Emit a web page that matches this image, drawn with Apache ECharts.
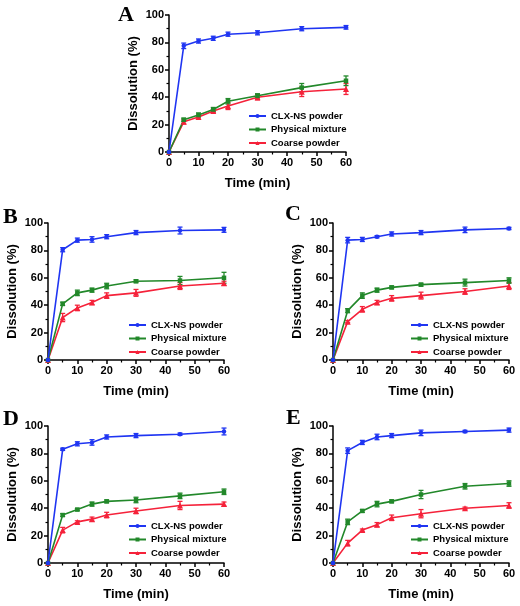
<!DOCTYPE html>
<html><head><meta charset="utf-8">
<script src="https://cdn.jsdelivr.net/npm/echarts@6/dist/echarts.min.js"></script>
<style>html,body{margin:0;padding:0;background:#fff}#c{width:520px;height:606px}</style>
</head><body><div id="c"></div>
<script>
const time = [0, 5, 10, 15, 20, 30, 45, 60];
const seriesNames = ['CLX-NS powder', 'Physical mixture', 'Coarse powder'];
const panelLabels = ['A', 'B', 'C', 'D', 'E'];
const xTicks = [0, 10, 20, 30, 40, 50, 60];
const yTicks = [0, 20, 40, 60, 80, 100];

// Panel A
const clxA = [0, 77.5, 81, 83, 86, 87, 90, 91];
const clxAerr = [0, 2, 1.5, 1.5, 1.5, 1.5, 1.5, 1.3];
const pmA = [0, 23.5, 27, 31, 37, 41, 47, 52];
const pmAerr = [0, 1.2, 1.5, 1.5, 2, 1.5, 3, 3.5];
const cpA = [0, 22, 25.5, 30, 33.5, 40, 44, 46];
const cpAerr = [0, 1.5, 1.5, 1.2, 2.5, 2, 3.5, 4];
// Panel B
const clxB = [0, 80.5, 87.5, 88, 90, 93, 94.5, 95];
const clxBerr = [0, 1.5, 1.5, 2, 1.5, 1.5, 2.5, 1.8];
const pmB = [0, 41, 49, 51, 54, 57.5, 58, 60];
const pmBerr = [0, 1.2, 2, 1.5, 2, 1, 3, 4];
const cpB = [0, 31, 38, 42, 47, 49, 54, 56];
const cpBerr = [0, 3, 2, 1.5, 2, 2.5, 2.5, 1.5];
// Panel C
const clxC = [0, 87.5, 88, 90, 92, 93, 95, 96];
const clxCerr = [0, 2, 1.5, 0.8, 1.5, 1.5, 2, 0.8];
const pmC = [0, 36, 47, 51, 53, 55, 56.5, 58];
const pmCerr = [0, 1.5, 2, 1.5, 1, 1, 2.5, 2];
const cpC = [0, 28, 37, 42, 45, 47, 50, 54];
const cpCerr = [0, 0.8, 2, 1.5, 2, 2.5, 2, 2.5];
// Panel D
const clxD = [0, 83, 87, 88, 92, 93, 94, 96];
const clxDerr = [0, 0.8, 1.5, 2, 1.5, 1.5, 0.8, 2.5];
const pmD = [0, 35, 39, 43, 45, 46, 49, 52];
const pmDerr = [0, 1, 0.8, 1.5, 1, 2, 2, 2];
const cpD = [0, 24, 30, 32, 35, 38, 42, 43];
const cpDerr = [0, 2, 0.8, 1.5, 2, 2, 3, 1.5];
// Panel E
const clxE = [0, 82, 88, 92, 93, 95, 96, 97];
const clxEerr = [0, 2, 1.5, 2, 1.5, 2, 0.8, 1.5];
const pmE = [0, 30, 38, 43, 45, 50, 56, 58];
const pmEerr = [0, 2, 1, 2, 1, 3, 2, 2];
const cpE = [0, 14.5, 24, 28, 33, 36, 40, 42];
const cpEerr = [0, 2, 0.8, 1.5, 2, 3, 0.8, 2];

const panels = [
  [[clxA, clxAerr], [pmA, pmAerr], [cpA, cpAerr]],
  [[clxB, clxBerr], [pmB, pmBerr], [cpB, cpBerr]],
  [[clxC, clxCerr], [pmC, pmCerr], [cpC, cpCerr]],
  [[clxD, clxDerr], [pmD, pmDerr], [cpD, cpDerr]],
  [[clxE, clxEerr], [pmE, pmEerr], [cpE, cpEerr]]
];

// layout
const grids = [
  {left: 169, top: 15, width: 177, height: 137},
  {left: 48, top: 223, width: 176, height: 137},
  {left: 333, top: 223, width: 176, height: 137},
  {left: 48, top: 426, width: 176, height: 137},
  {left: 333, top: 426, width: 176, height: 137}
];
const legendPos = [
  {left: 248, top: 111}, {left: 128, top: 320}, {left: 410, top: 320},
  {left: 128, top: 521}, {left: 410, top: 521}
];
const letterPos = [[118, 4], [3, 206], [285, 203], [3, 408], [286, 407]];

const colors = ['#1f35f2', '#22882a', '#f5223a'];
const symbols = ['circle', 'rect', 'triangle'];
const symSizes = [4.5, 4.5, 6];
const FONT = 'Liberation Sans, Arial, sans-serif';

function errRender(params, api) {
  const x = api.value(0), lo = api.value(1), hi = api.value(2);
  if (hi - lo <= 0) return null;
  const p1 = api.coord([x, lo]), p2 = api.coord([x, hi]);
  const c = api.visual('color');
  const w = 2.5;
  const st = {stroke: c, lineWidth: 1.3};
  return {type: 'group', children: [
    {type: 'line', shape: {x1: p1[0], y1: p1[1], x2: p2[0], y2: p2[1]}, style: st},
    {type: 'line', shape: {x1: p1[0] - w, y1: p1[1], x2: p1[0] + w, y2: p1[1]}, style: st},
    {type: 'line', shape: {x1: p2[0] - w, y1: p2[1], x2: p2[0] + w, y2: p2[1]}, style: st}
  ]};
}

const xAxes = [], yAxes = [], series = [], legends = [], graphics = [];
grids.forEach((g, i) => {
  xAxes.push({
    type: 'value', gridIndex: i, min: xTicks[0], max: xTicks[xTicks.length - 1], interval: 10,
    axisLine: {show: true, lineStyle: {color: '#000', width: 1.5}},
    axisTick: {show: true, length: 4, lineStyle: {color: '#000', width: 1.5}},
    minorTick: {show: true, splitNumber: 2, length: 2.5, lineStyle: {color: '#000', width: 1.2}},
    splitLine: {show: false},
    axisLabel: {fontSize: 11, fontWeight: 'bold', color: '#000', margin: 5, fontFamily: FONT},
    name: 'Time (min)', nameLocation: 'middle', nameGap: 25,
    nameTextStyle: {fontSize: 13, fontWeight: 'bold', color: '#000', fontFamily: FONT}
  });
  yAxes.push({
    type: 'value', gridIndex: i, min: yTicks[0], max: yTicks[yTicks.length - 1], interval: 20,
    axisLine: {show: true, lineStyle: {color: '#000', width: 1.5}},
    axisTick: {show: true, length: 4, lineStyle: {color: '#000', width: 1.5}},
    minorTick: {show: true, splitNumber: 2, length: 2.5, lineStyle: {color: '#000', width: 1.2}},
    splitLine: {show: false},
    axisLabel: {fontSize: 11, fontWeight: 'bold', color: '#000', margin: 5, fontFamily: FONT},
    name: 'Dissolution (%)', nameLocation: 'middle', nameGap: 29,
    nameTextStyle: {fontSize: 13, fontWeight: 'bold', color: '#000', fontFamily: FONT}
  });
  const order = [2, 1, 0];
  order.forEach(k => {
    const vals = panels[i][k][0], errs = panels[i][k][1];
    series.push({
      type: 'custom', xAxisIndex: i, yAxisIndex: i, z: 3,
      itemStyle: {color: colors[k]},
      renderItem: errRender,
      data: time.map((t, j) => [t, vals[j] - errs[j], vals[j] + errs[j]]),
      encode: {x: 0, y: [1, 2]}, silent: true
    });
    series.push({
      type: 'line', name: seriesNames[k], xAxisIndex: i, yAxisIndex: i, z: 4,
      data: time.map((t, j) => [t, vals[j]]),
      symbol: symbols[k], symbolSize: symSizes[k], showSymbol: true,
      lineStyle: {color: colors[k], width: 1.6},
      itemStyle: {color: colors[k]},
      animation: false
    });
  });
  legends.push({
    orient: 'vertical', left: legendPos[i].left, top: legendPos[i].top,
    itemWidth: 17, itemHeight: 5, itemGap: 3.5, padding: 0,
    data: seriesNames.map(n => ({name: n})),
    textStyle: {fontSize: 9.5, fontWeight: 'bold', color: '#000', fontFamily: FONT, lineHeight: 10},
    selectedMode: false
  });
  graphics.push({
    type: 'text', left: letterPos[i][0], top: letterPos[i][1],
    style: {text: panelLabels[i], font: 'bold 22px "Liberation Serif", "Times New Roman", serif', fill: '#000'}
  });
});

const chart = echarts.init(document.getElementById('c'), null, {renderer: 'canvas'});
chart.setOption({
  animation: false,
  backgroundColor: '#fff',
  grid: grids,
  xAxis: xAxes,
  yAxis: yAxes,
  legend: legends,
  series: series,
  graphic: graphics
});
</script></body></html>
